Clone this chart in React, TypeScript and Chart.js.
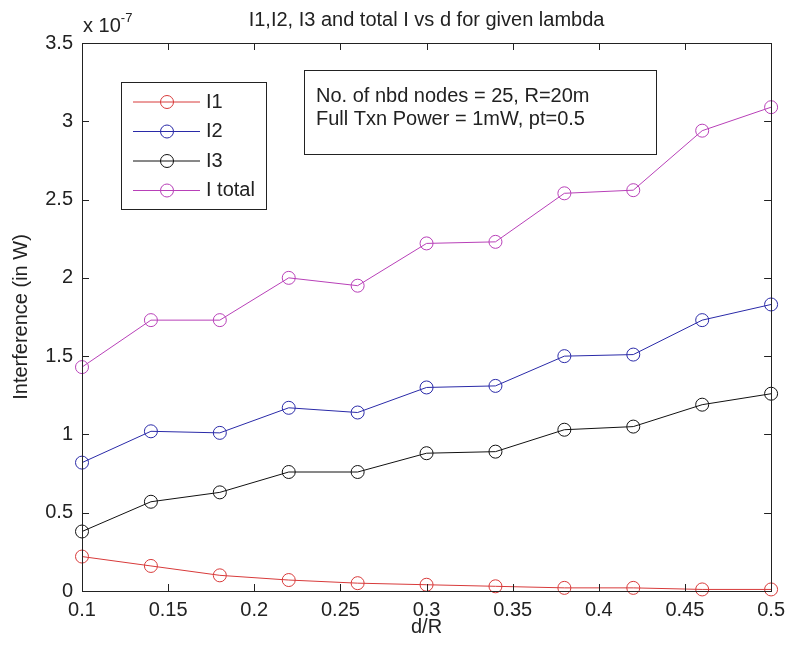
import React, { useEffect, useRef } from "react";
import { Chart, registerables } from "chart.js";

Chart.register(...registerables);

const dOverR = [0.1, 0.14, 0.18, 0.22, 0.26, 0.3, 0.34, 0.38, 0.42, 0.46, 0.5];
const I1 = [0.22, 0.16, 0.1, 0.07, 0.05, 0.04, 0.03, 0.02, 0.02, 0.01, 0.01];
const I2 = [0.82, 1.02, 1.01, 1.17, 1.14, 1.3, 1.31, 1.5, 1.51, 1.73, 1.83];
const I3 = [0.38, 0.57, 0.63, 0.76, 0.76, 0.88, 0.89, 1.03, 1.05, 1.19, 1.26];
const Itotal = [1.43, 1.73, 1.73, 2.0, 1.95, 2.22, 2.23, 2.54, 2.56, 2.94, 3.09];

const seriesNames = ["I1", "I2", "I3", "I total"];
const xTicks = [0.1, 0.15, 0.2, 0.25, 0.3, 0.35, 0.4, 0.45, 0.5];
const xTickLabels = ["0.1", "0.15", "0.2", "0.25", "0.3", "0.35", "0.4", "0.45", "0.5"];
const yTicks = [0, 0.5, 1, 1.5, 2, 2.5, 3, 3.5];
const yTickLabels = ["0", "0.5", "1", "1.5", "2", "2.5", "3", "3.5"];

const titleText = "I1,I2, I3 and total I vs d for given lambda";
const xTitle = "d/R";
const yTitle = "Interference (in W)";
const annotationLines = ["No. of nbd nodes = 25, R=20m", "Full Txn Power = 1mW, pt=0.5"];

const COLORS = ["#d83a3a", "#2a2aa8", "#111111", "#b840b8"];
const FONT = "'Liberation Sans', Arial, Helvetica, sans-serif";
const TXT = "#222222";

export default function App() {
  const ref = useRef<HTMLCanvasElement | null>(null);

  useEffect(() => {
    if (!ref.current) return;
    const series = [I1, I2, I3, Itotal];

    const decor = {
      id: "matlabDecor",
      afterDraw(chart: any) {
        const { ctx, chartArea: a, scales } = chart;
        const xs = scales.x;
        const ys = scales.y;
        ctx.save();
        // axes box
        ctx.strokeStyle = "#222";
        ctx.lineWidth = 1;
        ctx.strokeRect(Math.round(a.left) + 0.5, Math.round(a.top) + 0.5, Math.round(a.right - a.left), Math.round(a.bottom - a.top));
        // inward ticks
        const tl = 7;
        ctx.beginPath();
        xTicks.forEach((v) => {
          const px = Math.round(xs.getPixelForValue(v)) + 0.5;
          ctx.moveTo(px, a.bottom);
          ctx.lineTo(px, a.bottom - tl);
          ctx.moveTo(px, a.top);
          ctx.lineTo(px, a.top + tl);
        });
        yTicks.forEach((v) => {
          const py = Math.round(ys.getPixelForValue(v)) + 0.5;
          ctx.moveTo(a.left, py);
          ctx.lineTo(a.left + tl, py);
          ctx.moveTo(a.right, py);
          ctx.lineTo(a.right - tl, py);
        });
        ctx.stroke();

        // title
        ctx.fillStyle = TXT;
        ctx.font = `20px ${FONT}`;
        ctx.textAlign = "center";
        ctx.textBaseline = "middle";
        ctx.fillText(titleText, (a.left + a.right) / 2, 20);

        // exponent
        ctx.textAlign = "left";
        ctx.textBaseline = "alphabetic";
        ctx.font = `20px ${FONT}`;
        ctx.fillText("x 10", a.left + 1, 32);
        const w = ctx.measureText("x 10").width;
        ctx.font = `13px ${FONT}`;
        ctx.fillText("-7", a.left + 1 + w, 22);

        // legend
        const lx = 121, ly = 82, lw = 145, lh = 127;
        ctx.fillStyle = "#ffffff";
        ctx.fillRect(lx, ly, lw, lh);
        ctx.strokeStyle = "#222";
        ctx.strokeRect(lx + 0.5, ly + 0.5, lw, lh);
        seriesNames.forEach((name, i) => {
          const cy = 102 + i * 29.5;
          ctx.strokeStyle = COLORS[i];
          ctx.lineWidth = 1;
          ctx.beginPath();
          ctx.moveTo(133, cy);
          ctx.lineTo(200, cy);
          ctx.stroke();
          ctx.beginPath();
          ctx.arc(167, cy, 6.5, 0, Math.PI * 2);
          ctx.stroke();
          ctx.fillStyle = TXT;
          ctx.font = `20px ${FONT}`;
          ctx.textAlign = "left";
          ctx.textBaseline = "middle";
          ctx.fillText(name, 206, cy);
        });

        // annotation box
        const bx = 304, by = 70, bw = 352, bh = 84;
        ctx.fillStyle = "#ffffff";
        ctx.fillRect(bx, by, bw, bh);
        ctx.strokeStyle = "#222";
        ctx.lineWidth = 1;
        ctx.strokeRect(bx + 0.5, by + 0.5, bw, bh);
        ctx.fillStyle = TXT;
        ctx.font = `20px ${FONT}`;
        ctx.textAlign = "left";
        ctx.textBaseline = "middle";
        ctx.fillText(annotationLines[0], 316, 96);
        ctx.fillText(annotationLines[1], 316, 119);
        ctx.restore();
      },
    };

    const chart = new Chart(ref.current, {
      type: "line",
      data: {
        datasets: series.map((s, i) => ({
          label: seriesNames[i],
          data: s.map((v, j) => ({ x: dOverR[j], y: v })),
          borderColor: COLORS[i],
          backgroundColor: "rgba(0,0,0,0)",
          borderWidth: 1,
          pointRadius: 6.5,
          pointHoverRadius: 6.5,
          pointBorderWidth: 1,
          pointBorderColor: COLORS[i],
          pointBackgroundColor: "rgba(0,0,0,0)",
          tension: 0,
          fill: false,
          clip: false as any,
        })),
      },
      options: {
        animation: false,
        responsive: false,
        devicePixelRatio: 1,
        events: [],
        layout: { padding: { left: 0, right: 16, top: 43, bottom: 0 } },
        plugins: {
          legend: { display: false },
          title: { display: false },
          tooltip: { enabled: false },
        },
        scales: {
          x: {
            type: "linear",
            min: 0.1,
            max: 0.5,
            grid: { display: false, drawTicks: false },
            border: { display: false },
            afterBuildTicks: (s: any) => {
              s.ticks = xTicks.map((v) => ({ value: v }));
            },
            afterFit: (s: any) => {
              s.height = 57;
            },
            ticks: {
              autoSkip: false,
              maxRotation: 0,
              padding: 7,
              color: TXT,
              font: { family: FONT, size: 20 },
              callback: (v: any) => {
                const k = xTicks.findIndex((t) => Math.abs(t - v) < 1e-9);
                return k >= 0 ? xTickLabels[k] : "";
              },
            },
            title: {
              display: true,
              text: xTitle,
              color: TXT,
              font: { family: FONT, size: 20 },
              padding: 9,
            },
          },
          y: {
            type: "linear",
            min: 0,
            max: 3.5,
            grid: { display: false, drawTicks: false },
            border: { display: false },
            afterBuildTicks: (s: any) => {
              s.ticks = yTicks.map((v) => ({ value: v }));
            },
            afterFit: (s: any) => {
              s.width = 82;
            },
            ticks: {
              autoSkip: false,
              padding: 9,
              color: TXT,
              font: { family: FONT, size: 20 },
              callback: (v: any) => {
                const k = yTicks.findIndex((t) => Math.abs(t - v) < 1e-9);
                return k >= 0 ? yTickLabels[k] : "";
              },
            },
            title: {
              display: true,
              text: yTitle,
              color: TXT,
              font: { family: FONT, size: 20 },
              padding: 9,
            },
          },
        },
      },
      plugins: [decor],
    } as any);

    return () => chart.destroy();
  }, []);

  return (
    <div style={{ position: "absolute", left: 0, top: 0, width: 792, height: 648, background: "#fff" }}>
      <canvas ref={ref} width={792} height={648} />
    </div>
  );
}
